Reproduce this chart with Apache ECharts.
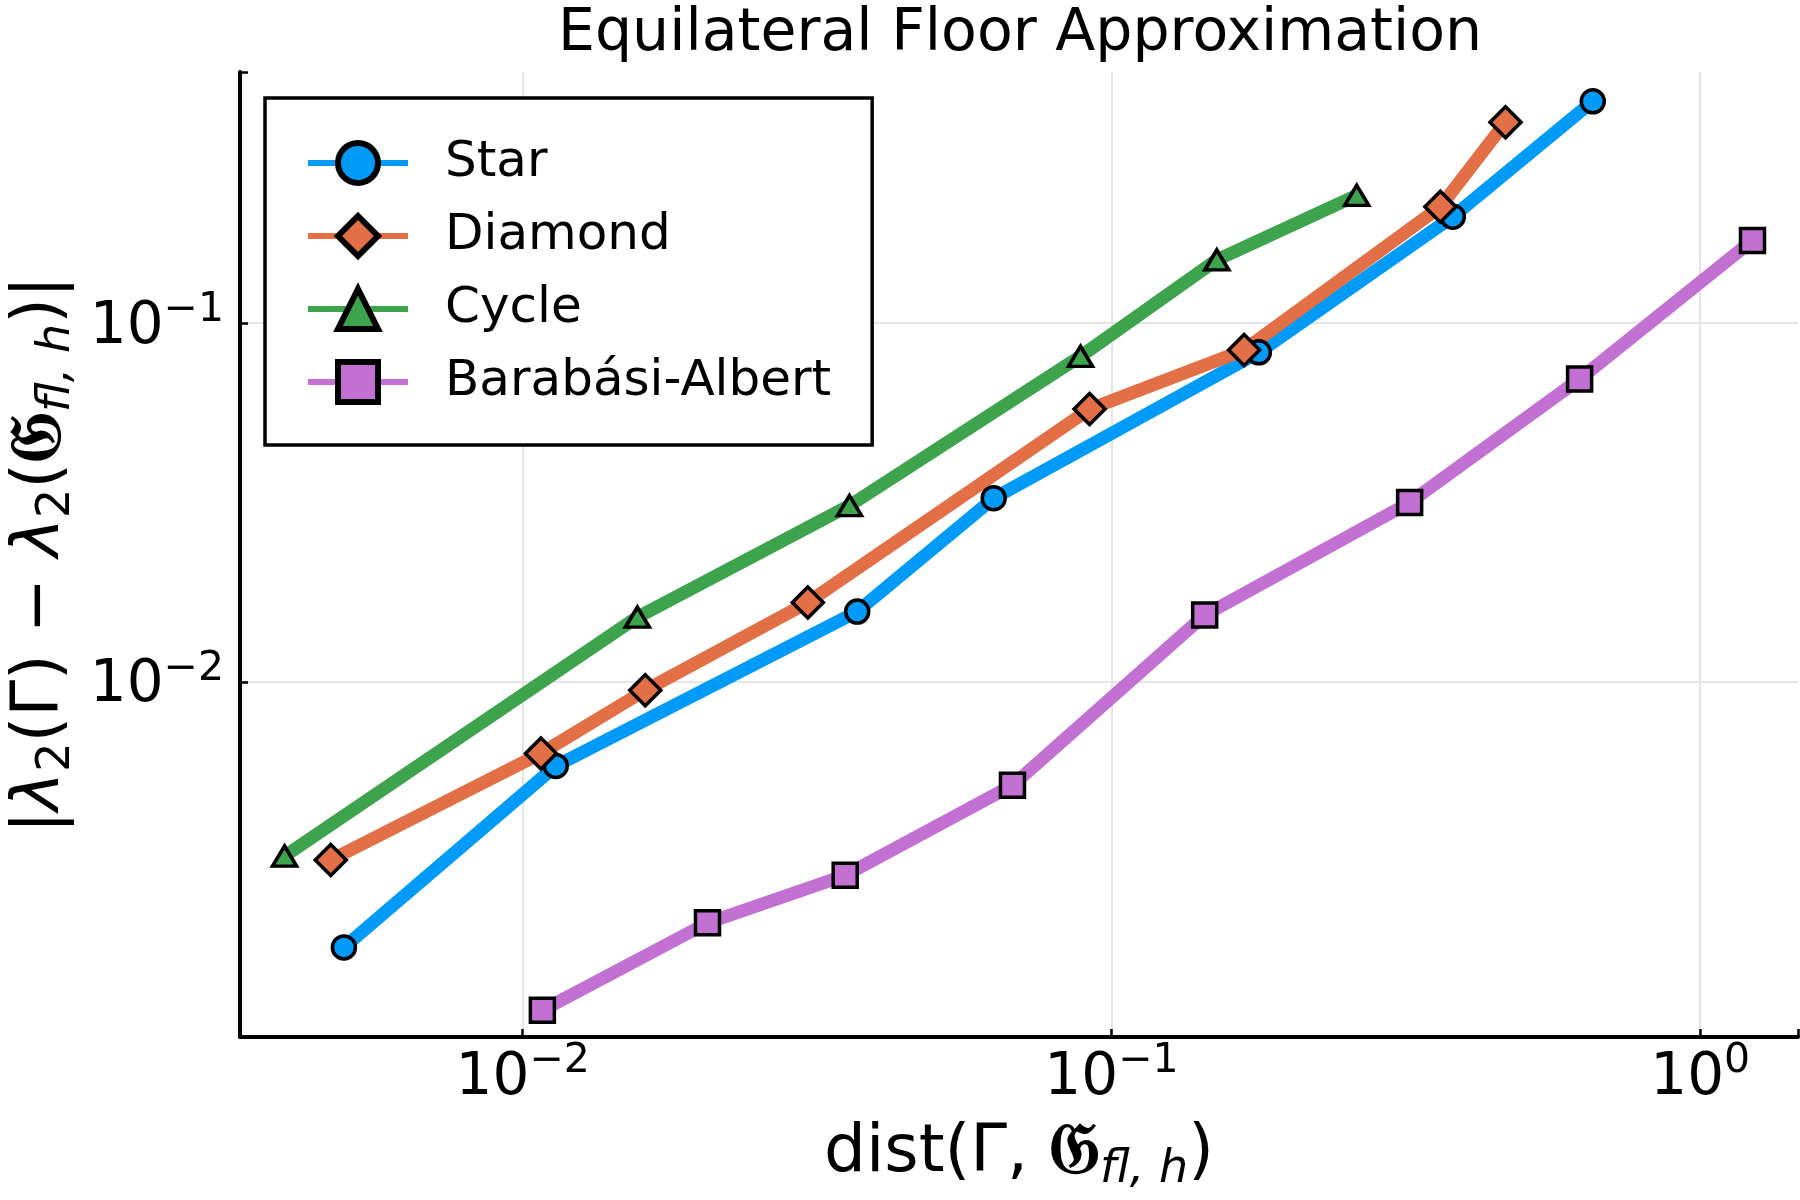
<!DOCTYPE html>
<html>
<head>
<meta charset="utf-8">
<title>Equilateral Floor Approximation</title>
<script src="https://cdn.jsdelivr.net/npm/echarts@6/dist/echarts.min.js"></script>
<style>
html, body { margin: 0; padding: 0; background: #fff; }
#chart { width: 1800px; height: 1200px; }
</style>
</head>
<body>
<div id="chart"></div>
<script>
// values (log-log axes)
var seriesNames = ['Star', 'Diamond', 'Cycle', 'Barabási-Albert'];

var starX = [0.00497, 0.01138, 0.0370, 0.0631, 0.178, 0.380, 0.657];
var starY = [0.00182, 0.00583, 0.0157, 0.0325, 0.0829, 0.198, 0.415];

var diamondX = [0.00472, 0.01074, 0.01615, 0.0305, 0.0918, 0.168, 0.362, 0.467];
var diamondY = [0.00319, 0.00632, 0.00948, 0.01665, 0.0576, 0.0841, 0.211, 0.363];

var cycleX = [0.00394, 0.01566, 0.0359, 0.0886, 0.151, 0.261];
var cycleY = [0.00327, 0.01515, 0.0310, 0.0808, 0.150, 0.227];

var baX = [0.0108, 0.0206, 0.0353, 0.0679, 0.144, 0.321, 0.624, 1.227];
var baY = [0.001215, 0.00213, 0.00289, 0.00515, 0.01535, 0.0316, 0.0698, 0.170];

var xRange = [0.00331, 1.466];
var yRange = [0.001024, 0.501];

var colors = ['#009AF9', '#E26F46', '#3DA44D', '#C271D2'];
var FONT = 'DejaVu Sans';

function toPairs(xs, ys) {
    return xs.map(function (x, i) { return [x, ys[i]]; });
}

function powLabel(v) {
    var e = Math.log10(v);
    var r = Math.round(e);
    if (Math.abs(e - r) > 1e-6) return '';
    var s = r < 0 ? '\u2212' + (-r) : '' + r;
    return '{b|10}{sup|' + s + '}';
}

var tickRich = {
    b: { fontSize: 58, fontFamily: FONT, color: '#000', verticalAlign: 'bottom', padding: [9, 0, 0, 0] },
    sup: { fontSize: 41, fontFamily: FONT, color: '#000', verticalAlign: 'top' }
};

var nameRich = {
    n: { fontSize: 66, fontFamily: FONT, color: '#000', verticalAlign: 'middle' },
    i: { fontSize: 66, fontFamily: FONT, fontStyle: 'italic', color: '#000', verticalAlign: 'middle' },
    g: { fontSize: 72, fontFamily: FONT, fontWeight: 'bold', color: '#000', verticalAlign: 'middle' },
    s: { fontSize: 46, fontFamily: FONT, color: '#000', verticalAlign: 'middle', padding: [32, 0, 0, 0] },
    f: { fontSize: 46, fontFamily: FONT, fontStyle: 'italic', color: '#000', verticalAlign: 'middle', padding: [32, 0, 0, 0] }
};

function logAxis(range, labelMargin) {
    return {
        type: 'log',
        logBase: 10,
        min: range[0],
        max: range[1],
        axisLine: { show: true, onZero: false, lineStyle: { color: '#000', width: 4 } },
        axisTick: { show: true, inside: true, length: 8, lineStyle: { color: '#000', width: 2.5 } },
        minorTick: { show: false },
        splitLine: { show: true, showMinLine: false, showMaxLine: false, lineStyle: { color: '#e5e5e5', width: 2 } },
        axisLabel: { formatter: powLabel, margin: labelMargin, color: '#000', fontFamily: FONT, fontSize: 58, rich: tickRich },
        nameLocation: 'middle',
        nameMoveOverlap: false,
        nameTextStyle: { fontSize: 66, fontFamily: FONT, color: '#000', rich: nameRich }
    };
}

var xAxis = logAxis(xRange, 4);
xAxis.name = '{n|dist(Γ, }{g|𝔊}{f|fl, h}{n|)}';
xAxis.nameGap = 78;

var yAxis = logAxis(yRange, 16);
yAxis.name = '{n||}{i|λ}{s|2}{n|(Γ) − }{i|λ}{s|2}{n|(}{g|𝔊}{f|fl, h}{n|)|}';
yAxis.nameRotate = 90;
yAxis.nameGap = 160;

function lineSeries(name, xs, ys, color, symbol, size) {
    return {
        name: name,
        type: 'line',
        data: toPairs(xs, ys),
        symbol: symbol,
        symbolSize: size,
        showSymbol: true,
        color: color,
        lineStyle: { color: color, width: 13, join: 'round' },
        itemStyle: { color: color, borderColor: '#000', borderWidth: 3.5 },
        emphasis: { disabled: true },
        animation: false
    };
}

var chart = echarts.init(document.getElementById('chart'));
chart.setOption({
    animation: false,
    backgroundColor: '#fff',
    title: {
        text: 'Equilateral Floor Approximation',
        left: 558,
        top: 5,
        padding: 0,
        textStyle: { fontSize: 58.5, fontWeight: 'normal', fontFamily: FONT, color: '#000' }
    },
    grid: { left: 240, right: 2, top: 72, bottom: 163, containLabel: false, outerBoundsMode: 'none' },
    legend: {
        orient: 'vertical',
        left: 265,
        top: 98,
        data: seriesNames,
        itemWidth: 100,
        itemHeight: 50,
        itemGap: 23,
        padding: [40, 41, 38, 40],
        borderColor: '#000',
        borderWidth: 3.5,
        borderRadius: 0,
        backgroundColor: '#fff',
        selectedMode: false,
        lineStyle: { width: 6 },
        itemStyle: { borderColor: '#000', borderWidth: 6 },
        textStyle: { fontSize: 50, fontFamily: FONT, color: '#000', padding: [0, 0, 0, 32] },
        z: 10
    },
    xAxis: xAxis,
    yAxis: yAxis,
    series: [
        lineSeries(seriesNames[0], starX, starY, colors[0], 'circle', 23),
        lineSeries(seriesNames[1], diamondX, diamondY, colors[1], 'diamond', 31),
        lineSeries(seriesNames[2], cycleX, cycleY, colors[2], 'triangle', [24, 20]),
        lineSeries(seriesNames[3], baX, baY, colors[3], 'rect', 24)
    ]
});
</script>
</body>
</html>
